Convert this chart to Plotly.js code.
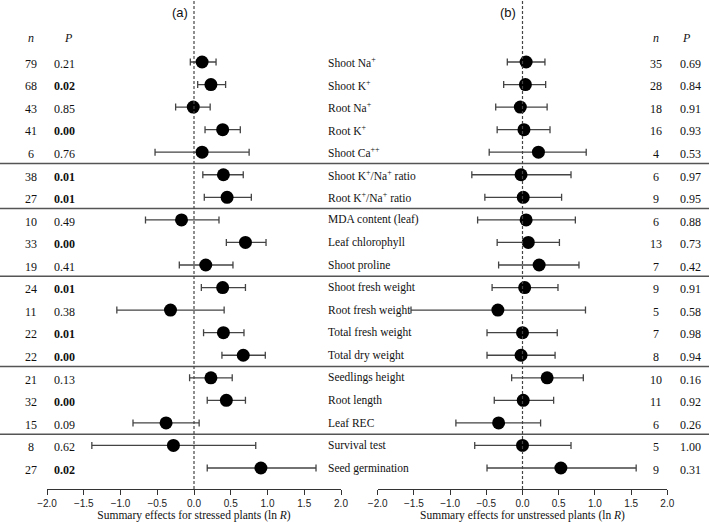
<!DOCTYPE html>
<html><head><meta charset="utf-8">
<script src="https://cdn.plot.ly/plotly-3.0.1.min.js"></script>
<style>html,body{margin:0;padding:0;background:#fff}</style>
</head><body><div id="chart" style="width:709px;height:522px"></div>
<script>
const traits = ["Shoot Na<sup>+</sup>","Shoot K<sup>+</sup>","Root Na<sup>+</sup>","Root K<sup>+</sup>","Shoot Ca<sup>++</sup>",
  "Shoot K<sup>+</sup>/Na<sup>+</sup> ratio","Root K<sup>+</sup>/Na<sup>+</sup> ratio","MDA content (leaf)","Leaf chlorophyll","Shoot proline",
  "Shoot fresh weight","Root fresh weight","Total fresh weight","Total dry weight","Seedlings height","Root length","Leaf REC",
  "Survival test","Seed germination"];
const nStressed = [79,68,43,41,6,38,27,10,33,19,24,11,22,22,21,32,15,8,27];
const pStressed = ["0.21","0.02","0.85","0.00","0.76","0.01","0.01","0.49","0.00","0.41","0.01","0.38","0.01","0.00","0.13","0.00","0.09","0.62","0.02"];
const effStressed = [0.11,0.23,-0.01,0.39,0.11,0.40,0.45,-0.17,0.70,0.16,0.39,-0.32,0.40,0.67,0.23,0.44,-0.38,-0.28,0.91];
const loStressed  = [-0.05,0.05,-0.25,0.15,-0.53,0.12,0.14,-0.66,0.44,-0.20,0.10,-1.05,0.13,0.38,-0.06,0.18,-0.83,-1.39,0.18];
const hiStressed  = [0.30,0.43,0.22,0.63,0.75,0.67,0.78,0.34,0.98,0.53,0.70,0.41,0.68,0.97,0.52,0.70,0.07,0.84,1.66];
const nUnstressed = [35,28,18,16,4,6,9,6,13,7,9,5,7,8,10,11,6,5,9];
const pUnstressed = ["0.69","0.84","0.91","0.93","0.53","0.97","0.95","0.88","0.73","0.42","0.91","0.58","0.98","0.94","0.16","0.92","0.26","1.00","0.31"];
const effUnstressed = [0.05,0.04,-0.03,0.02,0.22,-0.02,0.01,0.05,0.08,0.23,0.03,-0.34,0.00,-0.02,0.34,0.01,-0.33,0.00,0.53];
const loUnstressed  = [-0.21,-0.26,-0.37,-0.35,-0.46,-0.70,-0.52,-0.62,-0.35,-0.33,-0.42,-1.54,-0.49,-0.49,-0.15,-0.39,-0.92,-0.66,-0.49];
const hiUnstressed  = [0.31,0.32,0.34,0.38,0.88,0.67,0.54,0.73,0.51,0.78,0.49,0.87,0.48,0.45,0.84,0.43,0.25,0.67,1.57];
const groupBreaks = [4.5,6.5,9.5,13.5,16.5];
const xTicks = [-2.0,-1.5,-1.0,-0.5,0.0,0.5,1.0,1.5,2.0];

const rows = traits.map((_, i) => i);
const W = 709;
const serif = "Liberation Serif, Times New Roman, serif";
const sans = "Liberation Sans, Arial, sans-serif";

function forest(eff, lo, hi, xa) {
  return {
    type: "scatter", mode: "markers", x: eff, y: rows, xaxis: xa, yaxis: "y",
    marker: {color: "#000", size: 13},
    error_x: {type: "data", symmetric: false,
      array: hi.map((h, i) => h - eff[i]), arrayminus: lo.map((l, i) => eff[i] - l),
      color: "#444", thickness: 1.3, width: 3.5},
    hoverinfo: "skip", showlegend: false, cliponaxis: false
  };
}
const data = [forest(effStressed, loStressed, hiStressed, "x"), forest(effUnstressed, loUnstressed, hiUnstressed, "x2")];

const ann = [];
function txt(x, y, text, opts) {
  ann.push(Object.assign({xref: "paper", yref: "y", x: x / W, y: y, text: text, showarrow: false,
    xanchor: "center", yanchor: "middle", font: {family: serif, size: 12, color: "#111"}}, opts || {}));
}
const bold = p => parseFloat(p) < 0.05 ? "<b>" + p + "</b>" : p;
rows.forEach(i => {
  txt(31, i + 0.08, String(nStressed[i]));
  txt(64, i + 0.08, bold(pStressed[i]));
  txt(326, i, traits[i], {xanchor: "left", font: {family: serif, size: 11.5, color: "#111"}});
  txt(656, i + 0.08, String(nUnstressed[i]));
  txt(690, i + 0.08, bold(pUnstressed[i]));
});
txt(31, -1.06, "<i>n</i>");
txt(68, -1.06, "<i>P</i>");
txt(656, -1.06, "<i>n</i>");
txt(686, -1.06, "<i>P</i>");
txt(180, -2.2, "(a)", {font: {family: sans, size: 13, color: "#111"}});
txt(508, -2.2, "(b)", {font: {family: sans, size: 13, color: "#111"}});

const shapes = groupBreaks.map(b => ({type: "line", xref: "paper", yref: "y", x0: 0, x1: 1, y0: b, y1: b,
  line: {color: "#555", width: 1.5}}));
["x", "x2"].forEach(xa => shapes.push({type: "line", xref: xa, yref: "paper", x0: 0, x1: 0, y0: 0, y1: 1,
  line: {color: "#444", width: 1.2, dash: "3px,2px"}}));

function xaxis(domain, title) {
  return {domain: domain, range: [-2, 2], anchor: "y", tickvals: xTicks, tickformat: ".1f",
    ticks: "outside", ticklen: 5, tickwidth: 1, tickcolor: "#333", showline: true, linecolor: "#333", linewidth: 1.3,
    showgrid: false, zeroline: false, fixedrange: true, automargin: false,
    tickfont: {family: sans, size: 10, color: "#222"},
    title: {text: title, standoff: 3, font: {family: serif, size: 11.5, color: "#111"}}};
}
const layout = {
  width: 709, height: 522, margin: {l: 0, r: 0, t: 0, b: 33},
  paper_bgcolor: "#fff", plot_bgcolor: "#fff",
  xaxis: xaxis([47 / W, 341 / W], "Summary effects for stressed plants (ln <i>R</i>)"),
  xaxis2: xaxis([377.7 / W, 667.3 / W], "Summary effects for unstressed plants (ln <i>R</i>)"),
  yaxis: {range: [18.93, -2.748], visible: false, fixedrange: true},
  annotations: ann, shapes: shapes, showlegend: false
};
Plotly.newPlot("chart", data, layout, {displayModeBar: false, staticPlot: true});
</script></body></html>
